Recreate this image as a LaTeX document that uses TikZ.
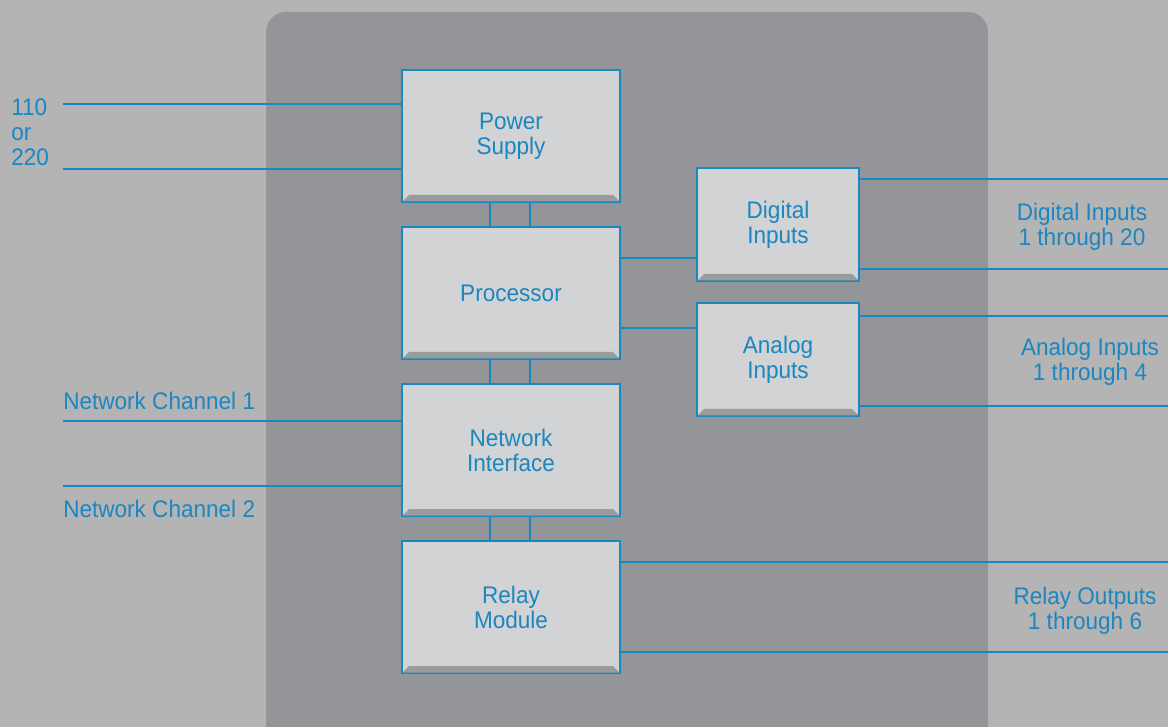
\documentclass[tikz,border=0pt]{standalone}
\usepackage{fontspec}
\setmainfont{Liberation Sans}[FakeStretch=0.94]
\usetikzlibrary{positioning,calc}
\definecolor{outergrey}{HTML}{B4B4B4}
\definecolor{panelgrey}{HTML}{939598}
\definecolor{boxgrey}{HTML}{D1D3D4}
\definecolor{bevelgrey}{HTML}{9A9B9D}
\definecolor{wireblue}{HTML}{1B86C0}

\begin{document}
\begin{tikzpicture}[
    x=0.75pt, y=-0.75pt,
    font=\fontsize{18}{18.75}\selectfont,
    block/.style ={
        rectangle,
        fill=boxgrey,
        draw=wireblue,
        line width=1.4pt,
        text=wireblue,
        align=center,
        inner sep=0pt
    },
    big/.style ={
        block,
        minimum width=163.5pt,
        minimum height=99pt
    },
    small/.style ={
        block,
        minimum width=121.5pt,
        minimum height=84.75pt
    },
    wire/.style ={
        draw=wireblue,
        line width=1.1pt
    },
    tag/.style ={
        text=wireblue,
        inner sep=0pt
    },
    node distance=17.4pt
    ]

    \useasboundingbox[fill=outergrey] (0,0) rectangle (1168,727);
    \clip (0,0) rectangle (1168,727);
    \fill[panelgrey, rounded corners=15pt] (266,12) rectangle (988,780);

    \node[big] (power) at (511,136) {Power\\Supply};
    \node[big] (proc) [below=of power] {Processor};
    \node[big] (net) [below=of proc] {Network\\Interface};
    \node[big] (relay) [below=of net] {Relay\\Module};
    \node[small] (digital) at (778,224.5) {Digital\\Inputs};
    \node[small] (analog) at (778,359.5) {Analog\\Inputs};

    % bevel along the bottom of each box
    \foreach \b in {power, proc, net, relay, digital, analog}
        \fill[bevelgrey] ([shift={(1.5,-1.5)}]\b.south west) -- ([shift={(8,-8)}]\b.south west)
            -- ([shift={(-8,-8)}]\b.south east) -- ([shift={(-1.5,-1.5)}]\b.south east) -- cycle;

    % links down the stack
    \foreach \src/ \dst in {power/proc, proc/net, net/relay}
        \foreach \dx in {-21, 19}
            \draw[wire] ([shift={(\dx,0)}]\src.south) -- ([shift={(\dx,0)}]\dst.north);

    % processor to the input modules
    \coordinate (dlink) at (0,258);
    \coordinate (alink) at (0,328);
    \draw[wire] (proc.east |- dlink) -- (digital.west |- dlink);
    \draw[wire] (proc.east |- alink) -- (analog.west |- alink);

    % outside lines
    \coordinate (ac1) at (63,104);
    \coordinate (ac2) at (63,169);
    \coordinate (ch1) at (63,421);
    \coordinate (ch2) at (63,486);
    \foreach \c in {ac1, ac2}
        \draw[wire] (\c) -- (\c -| power.west);
    \foreach \c in {ch1, ch2}
        \draw[wire] (\c) -- (\c -| net.west);

    \coordinate (din1) at (1168,179);
    \coordinate (din2) at (1168,269);
    \coordinate (ain1) at (1168,316);
    \coordinate (ain2) at (1168,406);
    \coordinate (rout1) at (1168,562);
    \coordinate (rout2) at (1168,652);
    \foreach \c in {din1, din2}
        \draw[wire] (digital.east |- \c) -- (\c);
    \foreach \c in {ain1, ain2}
        \draw[wire] (analog.east |- \c) -- (\c);
    \foreach \c in {rout1, rout2}
        \draw[wire] (relay.east |- \c) -- (\c);

    % labels
    \node[tag, anchor=base west, align=left] (mains) at (11,166) {110\\or\\220};
    \node[tag, anchor=base west] (ch1label) at (63,409) {Network Channel 1};
    \node[tag, anchor=base west] (ch2label) at (63,517) {Network Channel 2};
    \node[tag, align=center] (dinlabel) at (1082,227) {Digital Inputs\\1 through 20};
    \node[tag, align=center] (ainlabel) at (1090,362) {Analog Inputs\\1 through 4};
    \node[tag, align=center] (routlabel) at (1085,611) {Relay Outputs\\1 through 6};
\end{tikzpicture}
\end{document}
